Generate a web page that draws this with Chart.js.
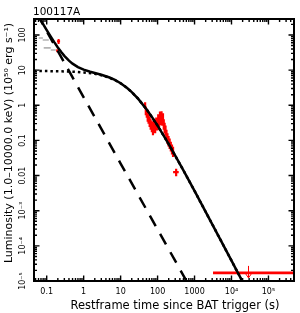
<!DOCTYPE html>
<html><head><meta charset="utf-8">
<script src="https://cdn.jsdelivr.net/npm/chart.js@4.4.0/dist/chart.umd.min.js"></script>
<style>html,body{margin:0;padding:0;background:#fff;}canvas{display:block;}</style>
</head><body>
<canvas id="c" width="300" height="313"></canvas>
<script>
// ---- text ----
const chartTitle = '100117A';
const xTitle = 'Restframe time since BAT trigger (s)';
const yTitle = 'Luminosity (1.0–10000.0 keV) (10⁵⁰ erg s⁻¹)';
const xTickVals = [0.1, 1, 10, 100, 1000, 1e4, 1e5];
const xTickLabels = ['0.1', '1', '10', '100', '1000', '10⁴', '10⁵'];
const yTickVals = [100, 10, 1, 0.1, 0.01, 1e-3, 1e-4, 1e-5];
const yTickLabels = ['100', '10', '1', '0.1', '0.01', '10⁻³', '10⁻⁴', '10⁻⁵'];

// ---- model curves ----
const solidT = [0.065, 0.08, 0.1, 0.13, 0.16, 0.2, 0.25, 0.3, 0.4, 0.5, 0.7, 1, 1.5, 2, 3, 5, 7, 10, 15, 20, 30, 50, 70, 100, 150, 200, 300, 500, 1000, 2000, 5000, 10000, 20000];
const solidL = [298, 205, 138, 88, 62.6, 44.2, 32.3, 25.5, 18.6, 15.3, 12.2, 10.3, 9.0, 8.31, 7.40, 6.16, 5.25, 4.24, 3.11, 2.38, 1.52, 0.776, 0.469, 0.264, 0.131, 0.0785, 0.0371, 0.01405, 3.65e-3, 9.31e-4, 1.51e-4, 3.78e-5, 9.48e-6];
const dashT = [0.055, 0.1, 1, 10, 100, 700];
const dashL = [396, 128.5, 1.69, 0.022, 2.94e-4, 7.6e-6];
const dotT = [0.045, 0.2, 0.5, 1, 2, 3, 5, 7, 10, 15, 20, 30, 50, 100, 200, 500, 1000, 3000, 10000, 20000];
const dotL = [9.46, 9.31, 9.04, 8.62, 7.85, 7.18, 6.08, 5.21, 4.22, 3.10, 2.375, 1.52, 0.776, 0.264, 0.0785, 0.01405, 3.65e-3, 4.17e-4, 3.78e-5, 9.48e-6];

// ---- data points ----
const grayT = [0.070, 0.096, 0.106, 0.153];
const grayTerr = [0.009, 0.018, 0.023, 0.024];
const grayL = [82, 72, 43, 37.5];
const grayLerr = [3, 3, 2, 2];

const batT = [0.21, 0.195];
const batTerr = [0.02, 0.015];
const batL = [66, 36];
const batLerr = [11, 3.5];

const xrtT = [46, 48, 51, 54, 57, 61, 65, 70, 75, 80, 86, 92, 98, 104, 110, 116, 122, 128, 134, 140, 147, 155, 164, 174, 185, 198, 212, 228, 245, 262, 318];
const xrtTerr = [2.5, 2.5, 2.7, 2.9, 3, 3.2, 3.5, 3.7, 4, 4.3, 4.6, 5, 5.2, 5.5, 5.8, 6.2, 6.5, 6.8, 7.1, 7.4, 7.8, 8.2, 8.7, 9.2, 9.8, 10.5, 11, 12, 13, 14, 55];
const xrtL = [1.0, 0.72, 0.62, 0.5, 0.44, 0.36, 0.3, 0.26, 0.22, 0.3, 0.24, 0.34, 0.28, 0.42, 0.35, 0.5, 0.4, 0.52, 0.38, 0.45, 0.3, 0.24, 0.2, 0.15, 0.12, 0.1, 0.085, 0.07, 0.058, 0.05, 0.0126];
const xrtLerr = [0.22, 0.2, 0.18, 0.16, 0.14, 0.12, 0.1, 0.09, 0.08, 0.1, 0.08, 0.11, 0.09, 0.14, 0.11, 0.16, 0.13, 0.16, 0.12, 0.14, 0.1, 0.08, 0.065, 0.05, 0.04, 0.033, 0.028, 0.022, 0.018, 0.016, 0.003];

// upper limit
const ulT = [2.8e4];
const ulTlo = [3160];
const ulThi = [6e5];
const ulL = [1.7e-5];

// ---- helpers ----
const pts = (T, L) => T.map((t, i) => ({x: t, y: L[i]}));
function errSegs(T, Terr, L, Lerr) {
  const out = [];
  for (let i = 0; i < T.length; i++) {
    out.push({x: T[i] - Terr[i], y: L[i]}, {x: T[i] + Terr[i], y: L[i]}, {x: T[i], y: null});
    out.push({x: T[i], y: L[i] - Lerr[i]}, {x: T[i], y: L[i] + Lerr[i]}, {x: T[i], y: null});
  }
  return out;
}
function ulSegs() {
  const out = [];
  for (let i = 0; i < ulT.length; i++) {
    out.push({x: ulTlo[i], y: ulL[i]}, {x: ulThi[i], y: ulL[i]}, {x: ulT[i], y: null});
  }
  return out;
}

const FONT = '"DejaVu Sans", sans-serif';

const framePlugin = {
  id: 'frame',
  afterDatasetsDraw(chart) {
    const ctx = chart.ctx, a = chart.chartArea;
    const xs = chart.scales.x, ys = chart.scales.y;
    ctx.save();
    // upper-limit arrows
    ctx.strokeStyle = '#ff0000';
    ctx.lineWidth = 1;
    for (let i = 0; i < ulT.length; i++) {
      const px = Math.round(xs.getPixelForValue(ulT[i])) + 0.5;
      const py = ys.getPixelForValue(ulL[i]);
      ctx.beginPath();
      ctx.moveTo(px, py - 7); ctx.lineTo(px, py + 5);
      ctx.moveTo(px - 3.5, py); ctx.lineTo(px, py + 5); ctx.lineTo(px + 3.5, py);
      ctx.stroke();
    }
    // frame
    ctx.strokeStyle = '#000';
    ctx.lineWidth = 2;
    ctx.strokeRect(a.left, a.top, a.right - a.left, a.bottom - a.top);
    ctx.lineWidth = 1.4;
    const drawAxis = (scale, isX) => {
      const lo = Math.floor(Math.log10(scale.min)), hi = Math.ceil(Math.log10(scale.max));
      for (let d = lo; d <= hi; d++) {
        for (let m = 1; m <= 9; m++) {
          const v = m * Math.pow(10, d);
          if (v < scale.min || v > scale.max) continue;
          const p = scale.getPixelForValue(v);
          const len = m === 1 ? 5.5 : 3;
          ctx.beginPath();
          if (isX) {
            ctx.moveTo(p, a.bottom); ctx.lineTo(p, a.bottom - len);
            ctx.moveTo(p, a.top); ctx.lineTo(p, a.top + len);
          } else {
            ctx.moveTo(a.left, p); ctx.lineTo(a.left + len, p);
            ctx.moveTo(a.right, p); ctx.lineTo(a.right - len, p);
          }
          ctx.stroke();
        }
      }
    };
    drawAxis(xs, true);
    drawAxis(ys, false);
    ctx.restore();
  },
  afterDraw(chart) {
    const ctx = chart.ctx, a = chart.chartArea;
    const xs = chart.scales.x, ys = chart.scales.y;
    ctx.save();
    ctx.fillStyle = '#000';
    // title
    ctx.font = '10.5px ' + FONT;
    ctx.textAlign = 'left'; ctx.textBaseline = 'alphabetic';
    ctx.fillText(chartTitle, 33, 15);
    // x tick labels
    ctx.font = '8px ' + FONT;
    ctx.textAlign = 'center'; ctx.textBaseline = 'middle';
    xTickVals.forEach((v, i) => ctx.fillText(xTickLabels[i], xs.getPixelForValue(v), a.bottom + 11));
    // y tick labels (rotated)
    yTickVals.forEach((v, i) => {
      ctx.save();
      ctx.translate(a.left - 11, ys.getPixelForValue(v));
      ctx.rotate(-Math.PI / 2);
      ctx.fillText(yTickLabels[i], 0, 0);
      ctx.restore();
    });
    // axis titles
    ctx.font = '11.5px ' + FONT;
    ctx.fillText(xTitle, 175, 306);
    ctx.save();
    ctx.translate(9.5, 143);
    ctx.rotate(-Math.PI / 2);
    ctx.font = '11px ' + FONT;
    ctx.fillText(yTitle, 0, 0);
    ctx.restore();
    ctx.restore();
  }
};

const line = (data, color, width, dash, order) => ({
  data, borderColor: color, borderWidth: width, borderDash: dash || [],
  showLine: true, pointRadius: 0, tension: 0, fill: false, order, spanGaps: false
});

new Chart(document.getElementById('c'), {
  type: 'scatter',
  data: {
    datasets: [
      line(pts(solidT, solidL), '#000', 2.5, [], 0),
      line(pts(dashT, dashL), '#000', 2.5, [12, 9], 1),
      line(pts(dotT, dotL), '#000', 2.5, [2.5, 3], 2),
      line(errSegs(xrtT, xrtTerr, xrtL, xrtLerr), '#ff0000', 2.2, [], 3),
      line(errSegs(batT, batTerr, batL, batLerr), '#ff0000', 2, [], 4),
      line(errSegs(grayT, grayTerr, grayL, grayLerr), '#b4b4b4', 1.6, [], 5),
      line(ulSegs(), '#ff0000', 2.6, [], 6)
    ]
  },
  options: {
    responsive: false,
    devicePixelRatio: 1,
    animation: false,
    events: [],
    layout: {padding: {left: 34, top: 19, right: 6, bottom: 32}},
    plugins: {legend: {display: false}, tooltip: {enabled: false}},
    scales: {
      x: {type: 'logarithmic', min: 0.0453, max: 4.91e5, display: false},
      y: {type: 'logarithmic', min: 1e-5, max: 285, display: false}
    }
  },
  plugins: [framePlugin]
});
</script>
</body></html>
